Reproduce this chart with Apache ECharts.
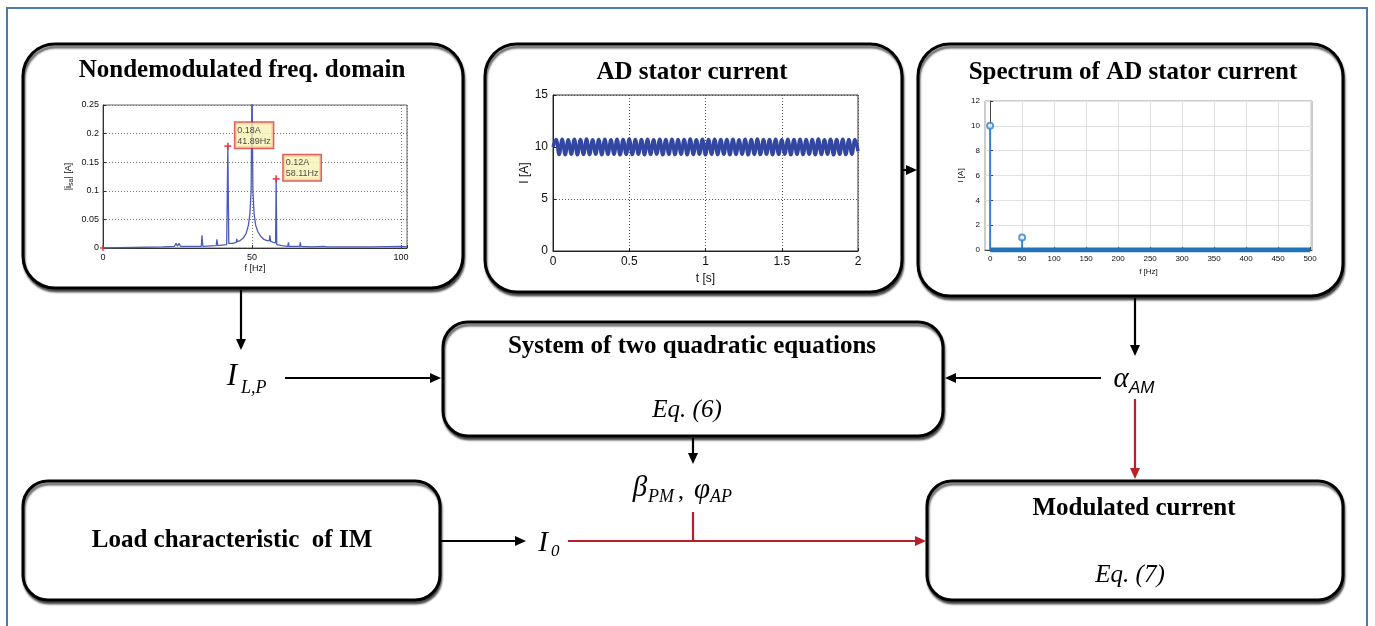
<!DOCTYPE html>
<html>
<head>
<meta charset="utf-8">
<script src="https://cdn.jsdelivr.net/npm/echarts@6/dist/echarts.min.js"></script>
<style>
  html, body { margin: 0; padding: 0; background: #fff; }
  #main { width: 1375px; height: 626px; }
</style>
</head>
<body>
<div id="main"></div>
<script>
// spectrum of the non-demodulated current (left top box)
const nondemF = [0, 20, 24, 24.5, 25, 25.5, 26, 33, 33.2, 33.5, 38, 38.2, 38.5, 41.5, 41.89, 42.2, 43.5, 44.7, 44.9, 45.1, 46, 47, 48, 48.8, 49.3, 49.7, 50, 50.3, 50.7, 51.2, 52, 53, 54, 55, 55.8, 56, 56.2, 57, 57.9, 58.11, 58.3, 60, 62, 62.2, 62.4, 66, 66.2, 66.4, 70, 74, 74.3, 75, 90, 100, 102];
const nondemI = [0, 0.002, 0.003, 0.008, 0.003, 0.008, 0.003, 0.003, 0.022, 0.003, 0.004, 0.015, 0.004, 0.006, 0.178, 0.008, 0.008, 0.01, 0.016, 0.011, 0.013, 0.017, 0.025, 0.04, 0.06, 0.1, 0.3, 0.1, 0.06, 0.04, 0.028, 0.02, 0.015, 0.013, 0.013, 0.022, 0.012, 0.01, 0.009, 0.121, 0.006, 0.004, 0.003, 0.01, 0.003, 0.003, 0.01, 0.003, 0.002, 0.003, 0.005, 0.002, 0.002, 0.003, 0.002];
const peakF = [41.89, 58.11];
const peakI = [0.178, 0.121];
const freqTicks1 = [0, 50, 100];

// AD stator current in time (middle top box), sampled every adStep seconds
const adStep = 0.02;
const adI = [10.0,10.72,9.28,10.75,9.26,10.7,9.3,10.74,9.25,10.71,
  9.29,10.76,9.27,10.7,9.31,10.73,9.26,10.75,9.28,10.7,
  9.3,10.74,9.25,10.72,9.29,10.76,9.27,10.71,9.3,10.73,
  9.26,10.75,9.28,10.7,9.31,10.74,9.25,10.72,9.29,10.75,
  9.27,10.71,9.3,10.73,9.26,10.76,9.28,10.7,9.3,10.74,
  9.25,10.72,9.29,10.75,9.27,10.71,9.31,10.73,9.26,10.75,
  9.28,10.7,9.3,10.74,9.25,10.72,9.29,10.76,9.27,10.71,
  9.3,10.73,9.26,10.75,9.28,10.7,9.31,10.74,9.25,10.72,
  9.29,10.75,9.27,10.71,9.3,10.73,9.26,10.76,9.28,10.7,
  9.3,10.74,9.25,10.72,9.29,10.75,9.27,10.71,9.3,10.73,
  9.6];

// spectrum of the AD stator current (right top box)
const stemF = [0, 50];
const stemI = [10, 1];
const floorF = [0, 500];
const floorI = [0, 0];
const specTicks = [0, 50, 100, 150, 200, 250, 300, 350, 400, 450, 500];

const SERIF = '"Liberation Serif", "Times New Roman", serif';
const SANS = '"Liberation Sans", Arial, sans-serif';
const RED = '#b81f2a';

function arrow(x1, y1, x2, y2, color) {
    const a = Math.atan2(y2 - y1, x2 - x1);
    const L = 11, W = 5;
    const bx = x2 - L * Math.cos(a), by = y2 - L * Math.sin(a);
    const px = -Math.sin(a) * W, py = Math.cos(a) * W;
    return [
        {type: 'line', z: 5, shape: {x1: x1, y1: y1, x2: bx, y2: by}, style: {stroke: color, lineWidth: 2.2}},
        {type: 'polygon', z: 5, shape: {points: [[x2, y2], [bx + px, by + py], [bx - px, by - py]]}, style: {fill: color}}
    ];
}

function box(x, y, w, h, r) {
    return {type: 'rect', z: -5, shape: {x: x, y: y, width: w, height: h, r: r},
        style: {fill: '#fff', stroke: '#000', lineWidth: 3, shadowBlur: 2, shadowOffsetX: 1, shadowOffsetY: 3, shadowColor: 'rgba(0,0,0,0.6)'}};
}

function txt(s, x, y, font, color, align) {
    return {type: 'text', z: 6, x: x, y: y,
        style: {text: s, font: font, fill: color || '#000', textAlign: align || 'center', textVerticalAlign: 'middle'}};
}

const graphics = [
    {type: 'rect', z: -10, shape: {x: 7, y: 8, width: 1360, height: 660}, style: {fill: 'none', stroke: '#4f79b2', lineWidth: 2}},
    box(23, 44, 440, 244, 32),
    box(485, 44, 417, 248, 32),
    box(918, 44, 425, 252, 32),
    box(443, 322, 500, 114, 25),
    box(23, 481, 417, 119, 25),
    box(927, 481, 416, 119, 25),
    txt('Nondemodulated freq. domain', 242, 71, 'bold 25px ' + SERIF),
    txt('AD stator current', 692, 73, 'bold 25px ' + SERIF),
    txt('Spectrum of AD stator current', 1133, 73, 'bold 25px ' + SERIF),
    txt('System of two quadratic equations', 692, 347, 'bold 25px ' + SERIF),
    txt('Eq. (6)', 687, 410, 'italic 25px ' + SERIF),
    txt('Load characteristic  of IM', 232, 541, 'bold 25px ' + SERIF),
    txt('Modulated current', 1134, 509, 'bold 25px ' + SERIF),
    txt('Eq. (7)', 1130, 575, 'italic 25px ' + SERIF),
    // math labels
    txt('I', 232, 377, 'italic 31px ' + SERIF, '#000', 'center'),
    txt('L,P', 241, 388, 'italic 18px ' + SERIF, '#000', 'left'),
    txt('\u03b1', 1121, 379, 'italic 29px ' + SERIF, '#000', 'center'),
    txt('AM', 1129, 388, 'italic 17px ' + SANS, '#000', 'left'),
    txt('\u03b2', 640, 488, 'italic 29px ' + SERIF, '#000', 'center'),
    txt('PM', 648, 497, 'italic 18px ' + SERIF, '#000', 'left'),
    txt(',', 681, 492, '24px ' + SERIF, '#000', 'center'),
    txt('\u03c6', 702, 490, 'italic 29px ' + SERIF, '#000', 'center'),
    txt('AP', 710, 497, 'italic 18px ' + SERIF, '#000', 'left'),
    txt('I', 543, 543, 'italic 29px ' + SERIF, '#000', 'center'),
    txt('0', 551, 552, 'italic 17px ' + SERIF, '#000', 'left')
]
.concat(arrow(241, 290, 241, 350, '#000'))
.concat(arrow(285, 378, 441, 378, '#000'))
.concat(arrow(903, 170, 917, 170, '#000'))
.concat(arrow(1135, 298, 1135, 356, '#000'))
.concat(arrow(1101, 378, 945, 378, '#000'))
.concat(arrow(1135, 399, 1135, 479, RED))
.concat(arrow(693, 438, 693, 464, '#000'))
.concat(arrow(441, 541, 526, 541, '#000'))
.concat(arrow(568, 541, 926, 541, RED))
.concat([{type: 'line', z: 5, shape: {x1: 693, y1: 512, x2: 693, y2: 541}, style: {stroke: RED, lineWidth: 2.2}}]);

const axisTxt = (size) => ({color: '#111', fontSize: size, fontFamily: SANS});

const option = {
    animation: false,
    backgroundColor: '#fff',
    graphic: graphics,
    grid: [
        {left: 103, top: 105, width: 304, height: 143, show: true, borderColor: '#666', borderWidth: 1, backgroundColor: 'transparent'},
        {left: 553, top: 95, width: 305, height: 156, show: true, borderColor: '#333', borderWidth: 1, backgroundColor: 'transparent'},
        {left: 985, top: 101, width: 327, height: 149, show: true, borderColor: '#9a9a9a', borderWidth: 1, backgroundColor: 'transparent'}
    ],
    xAxis: [
        {gridIndex: 0, type: 'value', min: 0, max: 102, interval: 50,
            name: 'f [Hz]', nameLocation: 'middle', nameGap: 16, nameTextStyle: axisTxt(9),
            axisLine: {lineStyle: {color: '#333'}}, axisTick: {inside: true, length: 3},
            axisLabel: Object.assign({margin: 5, formatter: v => (freqTicks1.indexOf(v) >= 0 ? v : '')}, axisTxt(9)),
            splitLine: {show: true, lineStyle: {color: '#777', type: [1, 2]}}},
        {gridIndex: 1, type: 'value', min: 0, max: 2, interval: 0.5,
            name: 't [s]', nameLocation: 'middle', nameGap: 22, nameTextStyle: axisTxt(12),
            axisLine: {lineStyle: {color: '#222'}}, axisTick: {inside: true, length: 3},
            axisLabel: Object.assign({margin: 5}, axisTxt(12)),
            splitLine: {show: true, lineStyle: {color: '#555', type: [1, 2]}}},
        {gridIndex: 2, type: 'value', min: -8, max: 503,
            name: 'f [Hz]', nameLocation: 'middle', nameGap: 18, nameTextStyle: axisTxt(8),
            axisLine: {lineStyle: {color: '#444'}}, axisTick: {inside: true, length: 3, customValues: specTicks},
            axisLabel: Object.assign({margin: 5, customValues: specTicks}, axisTxt(8)),
            splitLine: {show: true, lineStyle: {color: '#e2e2e2'}}}
    ],
    yAxis: [
        {gridIndex: 0, type: 'value', min: 0, max: 0.25, interval: 0.05,
            name: '|i{s|sa}| [A]', nameLocation: 'middle', nameGap: 30,
            nameTextStyle: Object.assign({rich: {s: {fontSize: 7, fontFamily: SANS, padding: [0, 0, -5, 0]}}}, axisTxt(9)),
            axisLine: {lineStyle: {color: '#333'}}, axisTick: {inside: true, length: 3},
            axisLabel: Object.assign({margin: 4}, axisTxt(9)),
            splitLine: {show: true, lineStyle: {color: '#777', type: [1, 2]}}},
        {gridIndex: 1, type: 'value', min: 0, max: 15, interval: 5,
            name: 'I [A]', nameLocation: 'middle', nameGap: 22, nameTextStyle: axisTxt(12),
            axisLine: {lineStyle: {color: '#222'}}, axisTick: {inside: true, length: 3},
            axisLabel: Object.assign({margin: 5}, axisTxt(12)),
            splitLine: {show: true, lineStyle: {color: '#555', type: [1, 2]}}},
        {gridIndex: 2, type: 'value', min: 0, max: 12, interval: 2,
            name: 'I [A]', nameLocation: 'middle', nameGap: 20, nameTextStyle: axisTxt(8),
            axisLine: {lineStyle: {color: '#444'}}, axisTick: {inside: true, length: 3},
            axisLabel: Object.assign({margin: 5}, axisTxt(8)),
            splitLine: {show: true, lineStyle: {color: '#e2e2e2'}}}
    ],
    series: [
        {type: 'line', xAxisIndex: 0, yAxisIndex: 0, symbol: 'none', z: 2,
            data: nondemF.map((f, i) => [f, nondemI[i]]),
            lineStyle: {color: '#4b5bb8', width: 1.3}},
        {type: 'scatter', xAxisIndex: 0, yAxisIndex: 0, clip: false, z: 8, zlevel: 1,
            symbol: 'path://M3,0H5V3H8V5H5V8H3V5H0V3H3Z', symbolSize: 7,
            itemStyle: {color: '#e8202a'},
            data: peakF.map((f, i) => [f, peakI[i]]),
            label: {show: true, position: [11, -20], formatter: p => p.value[1].toFixed(2) + 'A\n' + p.value[0].toFixed(2) + 'Hz',
                backgroundColor: '#f6f2b4', borderColor: '#d8383a', borderWidth: 1.5, padding: [2, 2, 1, 2],
                fontSize: 9, lineHeight: 11, color: '#222', fontFamily: SANS}},
        {type: 'scatter', xAxisIndex: 0, yAxisIndex: 0, clip: false,
            symbol: 'path://M3,0H5V3H8V5H5V8H3V5H0V3H3Z', symbolSize: 6,
            itemStyle: {color: '#e8202a'}, data: [[0, 0]]},
        {type: 'line', xAxisIndex: 1, yAxisIndex: 1, symbol: 'none', smooth: 0.4,
            data: adI.map((v, i) => [i * adStep, v]),
            lineStyle: {color: '#3347a2', width: 3.5}},
        {type: 'line', xAxisIndex: 2, yAxisIndex: 2, symbol: 'none',
            data: floorF.map((f, i) => [f, floorI[i]]),
            lineStyle: {color: '#1f72bc', width: 5}},
        {type: 'bar', xAxisIndex: 2, yAxisIndex: 2, barWidth: 2,
            data: stemF.map((f, i) => [f, stemI[i]]),
            itemStyle: {color: '#2f86c8'}},
        {type: 'scatter', xAxisIndex: 2, yAxisIndex: 2, symbol: 'emptyCircle', symbolSize: 6, clip: false,
            data: stemF.map((f, i) => [f, stemI[i]]),
            itemStyle: {color: '#2f86c8', borderWidth: 1.3}}
    ]
};

const myChart = echarts.init(document.getElementById('main'), null, {renderer: 'canvas'});
myChart.setOption(option);
window.addEventListener('resize', () => {
    myChart.resize();
});
</script>
</body>
</html>
